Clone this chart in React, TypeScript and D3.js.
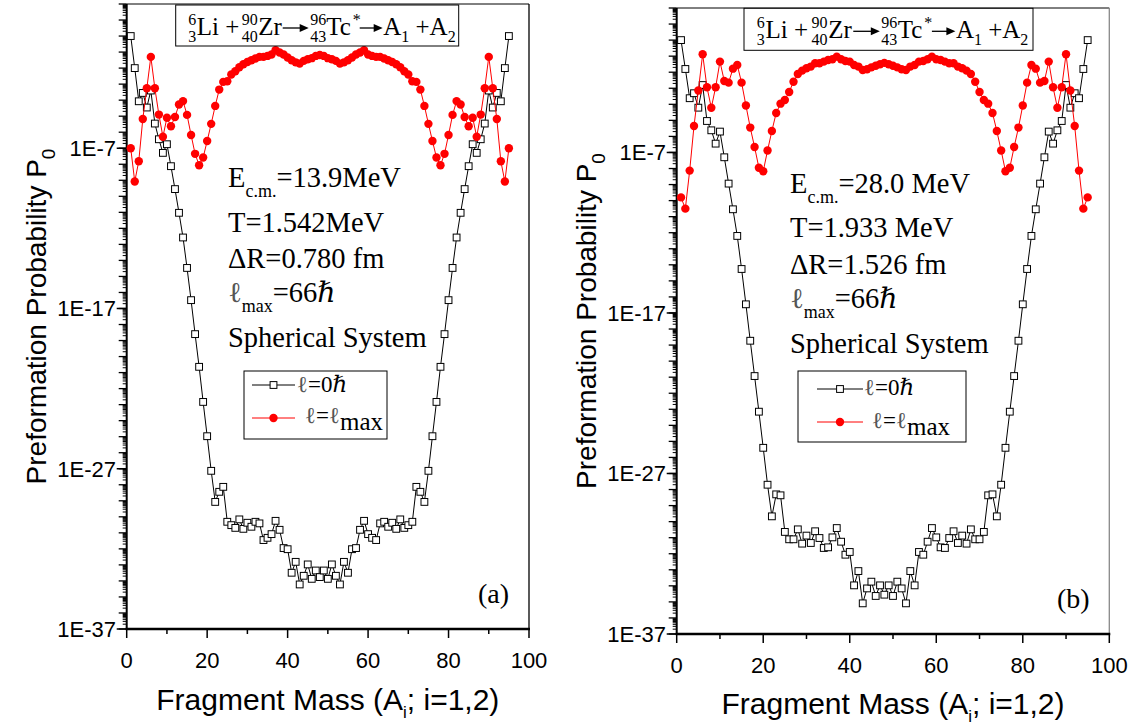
import React from 'react';
import * as d3 from 'd3';

// fragment mass numbers A1 = 1..95 for 96Tc*
const masses = d3.range(1, 96);

// log10(P0), panel (a): Ecm = 13.9 MeV
const logP0aL0 = [
  0, -2.0, -4.07, -3.55, -4.46, -3.4, -5.46, -6.44, -7.29, -6.75, -8.12, -9.55, -11.03, -12.57, -14.47, -16.48,
  -18.6, -20.64, -22.83, -24.97, -27.13, -29.07, -28.44, -28.13, -30.31, -30.52, -30.69, -30.16, -30.75, -30.37,
  -30.62, -30.31, -30.41, -31.45, -31.31, -31.08, -30.25, -30.81, -31.95, -32.02, -33.49, -32.81, -34.22, -33.68,
  -32.97, -33.87, -33.35, -33.76,
  -33.35, -33.87, -32.97, -33.68, -34.22, -32.81, -33.49, -32.02, -31.95, -30.81, -30.25, -31.08, -31.31, -31.45,
  -30.41, -30.31, -30.62, -30.37, -30.75, -30.16, -30.69, -30.52, -30.31, -28.13, -28.44, -29.07, -27.13, -24.97,
  -22.83, -20.64, -18.6, -16.48, -14.47, -12.57, -11.03, -9.55, -8.12, -6.75, -7.29, -6.44, -5.46, -3.4, -4.46,
  -3.55, -4.07, -2.0, 0,
];
const logP0aLmax = [
  -7.0, -9.08, -7.81, -5.18, -3.26, -1.3, -3.26, -4.9, -6.28, -5.1, -5.63, -5.05, -4.27, -4.06, -4.92, -6.17,
  -7.35, -8.06, -7.58, -6.55, -5.48, -4.36, -3.34, -2.86, -2.82, -2.4, -2.2, -1.95, -1.76, -1.62, -1.51, -1.4,
  -1.3, -1.3, -1.24, -1.15, -0.89, -1.03, -1.15, -1.34, -1.51, -1.64, -1.72, -1.55, -1.45, -1.38, -1.24, -1.18,
  -1.24, -1.38, -1.45, -1.55, -1.72, -1.64, -1.51, -1.34, -1.15, -1.03, -0.89, -1.15, -1.24, -1.3, -1.3, -1.4,
  -1.51, -1.62, -1.76, -1.95, -2.2, -2.4, -2.82, -2.86, -3.34, -4.36, -5.48, -6.55, -7.58, -8.06, -7.35, -6.17,
  -4.92, -4.06, -4.27, -5.05, -5.63, -5.1, -6.28, -4.9, -3.26, -1.3, -3.26, -5.18, -7.81, -9.08, -7.0,
];

// panel (b): Ecm = 28.0 MeV
const logP0bL0 = [
  0, -1.8, -3.62, -3.31, -4.21, -2.8, -5.04, -5.62, -6.45, -5.7, -7.3, -8.94, -10.54, -12.2, -14.26, -16.46,
  -18.73, -20.93, -23.15, -25.4, -27.7, -29.67, -28.3, -28.36, -30.64, -31.1, -31.1, -30.48, -31.37, -30.87,
  -31.33, -30.6, -31.02, -31.64, -31.6, -30.98, -30.4, -31.25, -32.06, -31.89, -33.97, -33.08, -35.09, -34.16,
  -33.74, -34.63, -33.97, -34.55,
  -33.97, -34.63, -33.74, -34.16, -35.09, -33.08, -33.97, -31.89, -32.06, -31.25, -30.4, -30.98, -31.6, -31.64,
  -31.02, -30.6, -31.33, -30.87, -31.37, -30.48, -31.1, -31.1, -30.64, -28.36, -28.3, -29.67, -27.7, -25.4,
  -23.15, -20.93, -18.73, -16.46, -14.26, -12.2, -10.54, -8.94, -7.3, -5.7, -6.45, -5.62, -5.04, -2.8, -4.21,
  -3.31, -3.62, -1.8, 0,
];
const logP0bLmax = [
  -9.8, -10.5, -8.13, -5.35, -3.14, -0.88, -2.94, -4.21, -2.94, -1.34, -2.55, -2.65, -1.78, -1.55, -2.65, -4.07,
  -5.45, -6.66, -7.95, -8.17, -6.88, -5.66, -4.54, -3.96, -3.73, -3.23, -2.59, -2.11, -1.9, -1.75, -1.65, -1.44,
  -1.44, -1.34, -1.24, -1.19, -1.03, -1.19, -1.3, -1.34, -1.55, -1.65, -1.86, -1.82, -1.7, -1.6, -1.5, -1.42,
  -1.5, -1.6, -1.7, -1.82, -1.86, -1.65, -1.55, -1.34, -1.3, -1.19, -1.03, -1.19, -1.24, -1.34, -1.44, -1.44,
  -1.65, -1.75, -1.9, -2.11, -2.59, -3.23, -3.73, -3.96, -4.54, -5.66, -6.88, -8.17, -7.95, -6.66, -5.45, -4.07,
  -2.65, -1.55, -1.78, -2.65, -2.55, -1.34, -2.94, -4.21, -2.94, -0.88, -3.14, -5.35, -8.13, -10.5, -9.8,
];

const xTicks = [0, 20, 40, 60, 80, 100];
const xMinorTicks = [10, 30, 50, 70, 90];
const yTickValues = [1e-7, 1e-17, 1e-27, 1e-37];
const yTickLabels = ['1E-7', '1E-17', '1E-27', '1E-37'];

const SANS = '"Liberation Sans", Arial, sans-serif';
const SERIF = '"Liberation Serif", "Times New Roman", "DejaVu Serif", serif';

const panelA = {
  left: 126.7, right: 529, top: 4, bottom: 629,
  yTitleX: 46, xTitleY: 710, tickLabelY: 668, yLabelX: 116,
  box: { x: 175.7, y: 5, w: 283, h: 41 },
  infoX: 228, infoY: [187, 232, 268, 302, 347],
  legend: { x: 244, y: 371, w: 143, h: 68, lx1: 252, lx2: 295, ly: [385, 418], tx: [297, 305], ty: [392, 423] },
  tag: { text: '(a)', x: 478, y: 603 },
  info: ['=13.9MeV', 'T=1.542MeV', '\u0394R=0.780 fm'],
  rightStroke: '#000',
};
const panelB = {
  left: 676.7, right: 1109.3, top: 8, bottom: 634,
  yTitleX: 596, xTitleY: 714, tickLabelY: 673, yLabelX: 666,
  box: { x: 744, y: 8.3, w: 289, h: 42 },
  infoX: 790, infoY: [193, 237, 274, 308, 353],
  legend: { x: 798, y: 371, w: 168, h: 71, lx1: 817, lx2: 863, ly: [389, 422], tx: [864, 872], ty: [395, 428] },
  tag: { text: '(b)', x: 1057, y: 608 },
  info: ['=28.0 MeV', 'T=1.933 MeV', '\u0394R=1.526 fm'],
  rightStroke: '#888',
};

const Arrow = ({ x1, x2, y }: { x1: number; x2: number; y: number }) => (
  <g>
    <line x1={x1} x2={x2 - 7} y1={y} y2={y} stroke="#000" strokeWidth={1.3} />
    <path d={`M${x2 - 9},${y - 4}L${x2},${y}L${x2 - 9},${y + 4}Z`} fill="#000" />
  </g>
);

// 6Li + 90Zr -> 96Tc* -> A1 + A2 reaction box
const Reaction = ({ box }: { box: { x: number; y: number; w: number; h: number } }) => {
  const k = box.w / 283;
  const X = (d: number) => box.x + d * k;
  const base = box.y + 30;
  const sup = box.y + 20;
  const sub = box.y + 37;
  const ss = { fontFamily: SERIF, fontSize: 16 };
  const big = { fontFamily: SERIF, fontSize: 25 };
  return (
    <g>
      <rect x={box.x} y={box.y} width={box.w} height={box.h} fill="#fff" stroke="#000" strokeWidth={1} />
      <text x={X(12.5)} y={sup} {...ss}>6</text>
      <text x={X(12.5)} y={sub} {...ss}>3</text>
      <text x={X(21)} y={base} {...big}>Li +</text>
      <text x={X(66)} y={sup} {...ss}>90</text>
      <text x={X(66)} y={sub} {...ss}>40</text>
      <text x={X(82.5)} y={base} {...big}>Zr</text>
      <Arrow x1={X(107)} x2={X(133)} y={box.y + 23} />
      <text x={X(134.5)} y={sup} {...ss}>96</text>
      <text x={X(134.5)} y={sub} {...ss}>43</text>
      <text x={X(150.5)} y={base} {...big}>
        Tc<tspan fontSize={16} dx={2} dy={-10}>*</tspan>
      </text>
      <Arrow x1={X(184)} x2={X(207)} y={box.y + 23} />
      <text x={X(207.5)} y={base} {...big}>
        A<tspan fontSize={16} dy={7}>1</tspan><tspan dy={-7}> +A</tspan><tspan fontSize={16} dy={7}>2</tspan>
      </text>
    </g>
  );
};

const Panel = ({ cfg, l0, lmax }: { cfg: typeof panelA; l0: number[]; lmax: number[] }) => {
  const x = d3.scaleLinear().domain([0, 100]).range([cfg.left, cfg.right]);
  const y = d3.scaleLog().domain([1e-37, 1e2]).range([cfg.bottom, cfg.top]);
  const line = d3.line<number>().x((_, i) => x(masses[i])).y(d => y(Math.pow(10, d)));

  const decades = d3.range(-37, 3);
  const minors: number[] = [];
  decades.slice(0, -1).forEach(e => d3.range(2, 10).forEach(m => minors.push(m * Math.pow(10, e))));

  const midY = (cfg.top + cfg.bottom) / 2;
  const midX = (cfg.left + cfg.right) / 2;
  const lg = cfg.legend;
  const ell = { fill: '#555' };

  return (
    <g>
      {/* frame */}
      <line x1={cfg.left} x2={cfg.right} y1={cfg.top} y2={cfg.top} stroke="#000" strokeWidth={1} />
      <line x1={cfg.right} x2={cfg.right} y1={cfg.top} y2={cfg.bottom} stroke={cfg.rightStroke} strokeWidth={1.3} />

      {/* y ticks */}
      {minors.map((v, i) => (
        <line key={'m' + i} x1={cfg.left - 4} x2={cfg.left} y1={y(v)} y2={y(v)} stroke="#000" strokeWidth={1} />
      ))}
      {decades.map(e => (
        <line key={'d' + e} x1={cfg.left - 8} x2={cfg.left} y1={y(Math.pow(10, e))} y2={y(Math.pow(10, e))}
          stroke="#000" strokeWidth={1.3} />
      ))}
      {yTickValues.map((v, i) => (
        <g key={'yl' + i}>
          <line x1={cfg.left - 10} x2={cfg.left} y1={y(v)} y2={y(v)} stroke="#000" strokeWidth={1.5} />
          <text x={cfg.yLabelX} y={y(v)} dy="0.36em" textAnchor="end" fontFamily={SANS} fontSize={22}>
            {yTickLabels[i]}
          </text>
        </g>
      ))}

      {/* x ticks */}
      {xMinorTicks.map(t => (
        <line key={'xm' + t} x1={x(t)} x2={x(t)} y1={cfg.bottom} y2={cfg.bottom + 5} stroke="#000" strokeWidth={1.5} />
      ))}
      {xTicks.map(t => (
        <g key={'x' + t}>
          <line x1={x(t)} x2={x(t)} y1={cfg.bottom} y2={cfg.bottom + 9} stroke="#000" strokeWidth={1.5} />
          <text x={x(t)} y={cfg.tickLabelY} textAnchor="middle" fontFamily={SANS} fontSize={22}>{t}</text>
        </g>
      ))}

      <line x1={cfg.left} x2={cfg.left} y1={cfg.top} y2={cfg.bottom + 1} stroke="#000" strokeWidth={2} />
      <line x1={cfg.left - 1} x2={cfg.right + 1} y1={cfg.bottom} y2={cfg.bottom} stroke="#000" strokeWidth={2.5} />

      {/* axis titles */}
      <text transform={`translate(${cfg.yTitleX},${midY}) rotate(-90)`} textAnchor="middle" fontFamily={SANS} fontSize={28}>
        Preformation Probability P<tspan fontSize={19} dy={9}>0</tspan>
      </text>
      <text x={midX} y={cfg.xTitleY} textAnchor="middle" fontFamily={SANS} fontSize={30}>
        Fragment Mass (A<tspan fontSize={17} dy={8}>i</tspan><tspan dy={-8}>; i=1,2)</tspan>
      </text>

      {/* series */}
      <path d={line(l0) || ''} fill="none" stroke="#000" strokeWidth={1} />
      {l0.map((d, i) => (
        <rect key={'s' + i} x={x(masses[i]) - 3.4} y={y(Math.pow(10, d)) - 3.4} width={6.8} height={6.8}
          fill="#fff" stroke="#000" strokeWidth={1} />
      ))}
      <path d={line(lmax) || ''} fill="none" stroke="#ff0000" strokeWidth={1} />
      {lmax.map((d, i) => (
        <circle key={'c' + i} cx={x(masses[i])} cy={y(Math.pow(10, d))} r={4.2} fill="#ff0000" />
      ))}

      <Reaction box={cfg.box} />

      {/* conditions */}
      <g fontFamily={SERIF} fontSize={28.5}>
        <text x={cfg.infoX} y={cfg.infoY[0]}>
          E<tspan fontSize={18} dy={10}>c.m.</tspan><tspan dy={-10}>{cfg.info[0]}</tspan>
        </text>
        <text x={cfg.infoX} y={cfg.infoY[1]}>{cfg.info[1]}</text>
        <text x={cfg.infoX} y={cfg.infoY[2]}>{cfg.info[2]}</text>
        <text x={cfg.infoX} y={cfg.infoY[3]}>
          <tspan {...ell}>{'\u2113'}</tspan><tspan fontSize={18} dy={10}>max</tspan>
          <tspan dy={-10}>=66</tspan><tspan fontStyle="italic">{'\u210F'}</tspan>
        </text>
        <text x={cfg.infoX} y={cfg.infoY[4]}>Spherical System</text>
      </g>

      {/* legend */}
      <rect x={lg.x} y={lg.y} width={lg.w} height={lg.h} fill="#fff" stroke="#000" strokeWidth={1} />
      <line x1={lg.lx1} x2={lg.lx2} y1={lg.ly[0]} y2={lg.ly[0]} stroke="#000" strokeWidth={1} />
      <rect x={(lg.lx1 + lg.lx2) / 2 - 3.4} y={lg.ly[0] - 3.4} width={6.8} height={6.8} fill="#fff" stroke="#000" />
      <line x1={lg.lx1} x2={lg.lx2} y1={lg.ly[1]} y2={lg.ly[1]} stroke="#ff0000" strokeWidth={1} />
      <circle cx={(lg.lx1 + lg.lx2) / 2} cy={lg.ly[1]} r={4.2} fill="#ff0000" />
      <g fontFamily={SERIF} fontSize={23}>
        <text x={lg.tx[0]} y={lg.ty[0]}>
          <tspan {...ell}>{'\u2113'}</tspan>=0<tspan fontStyle="italic">{'\u210F'}</tspan>
        </text>
        <text x={lg.tx[1]} y={lg.ty[1]}>
          <tspan {...ell}>{'\u2113'}</tspan>=<tspan {...ell}>{'\u2113'}</tspan>
          <tspan fontSize={25} dy={7}>max</tspan>
        </text>
      </g>

      <text x={cfg.tag.x} y={cfg.tag.y} fontFamily={SERIF} fontSize={28}>{cfg.tag.text}</text>
    </g>
  );
};

export default function App() {
  return (
    <svg width={1134} height={728} style={{ position: 'absolute', left: 0, top: 0, background: '#fff' }}>
      <rect width={1134} height={728} fill="#fff" />
      <Panel cfg={panelA} l0={logP0aL0} lmax={logP0aLmax} />
      <Panel cfg={panelB} l0={logP0bL0} lmax={logP0bLmax} />
    </svg>
  );
}
